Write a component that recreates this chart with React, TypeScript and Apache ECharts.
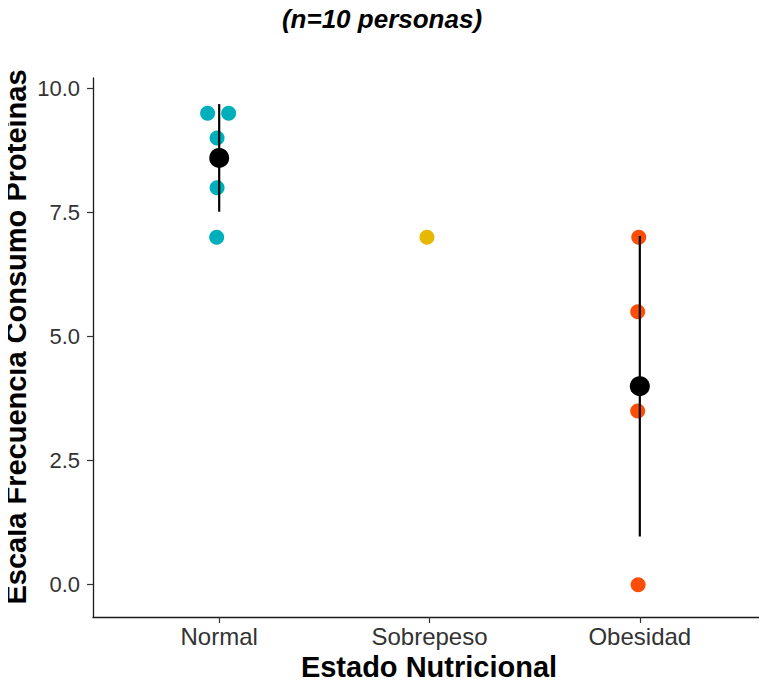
import React, { useEffect, useRef } from "react";
import * as echarts from "echarts";

// Nutritional status groups and the protein-consumption scores recorded in each
const categories = ["Normal", "Sobrepeso", "Obesidad"];
const normalValues = [9.5, 9.5, 9.0, 8.0, 7.0];
const sobrepesoValues = [7.0];
const obesidadValues = [7.0, 5.5, 3.5, 0.0];

// Small horizontal jitter applied to each point (in category units)
const normalJitter = [-0.055, 0.045, -0.01, -0.01, -0.012];
const sobrepesoJitter = [-0.012];
const obesidadJitter = [-0.005, -0.01, -0.01, -0.008];

const yTicks = [0, 2.5, 5, 7.5, 10];
const groupColors = ["#00AFBB", "#E7B800", "#FC4E07"];

const groups = [
  { values: normalValues, jitter: normalJitter },
  { values: sobrepesoValues, jitter: sobrepesoJitter },
  { values: obesidadValues, jitter: obesidadJitter },
];

function mean(v: number[]) {
  return v.reduce((a, b) => a + b, 0) / v.length;
}
function sd(v: number[]) {
  if (v.length < 2) return NaN;
  const m = mean(v);
  return Math.sqrt(v.reduce((a, b) => a + (b - m) * (b - m), 0) / (v.length - 1));
}

const FONT = "Arial, 'Liberation Sans', sans-serif";

export default function App() {
  const ref = useRef<HTMLDivElement>(null);

  useEffect(() => {
    if (!ref.current) return;
    const chart = echarts.init(ref.current, undefined, { renderer: "svg" });

    const pointSeries = groups.map((g, i) => ({
      type: "scatter" as const,
      symbol: "circle",
      symbolSize: 15,
      itemStyle: { color: groupColors[i], opacity: 1 },
      data: g.values.map((v, j) => [i + g.jitter[j], v]),
      z: 2,
    }));

    // mean ± sd per group; groups with a single observation have no sd and are skipped
    const summary = groups
      .map((g, i) => {
        const m = mean(g.values);
        const s = sd(g.values);
        return { x: i, mean: m, lo: m - s, hi: m + s };
      })
      .filter((d) => !isNaN(d.lo));

    const option: any = {
      animation: false,
      backgroundColor: "#ffffff",
      grid: { left: 93, right: 1, top: 78, bottom: 68, containLabel: false },
      xAxis: {
        type: "value",
        min: -0.6,
        max: 2.6,
        splitLine: { show: false },
        axisLine: { show: true, onZero: false, lineStyle: { color: "#1a1a1a", width: 1.3 } },
        axisTick: { show: true, length: 6, customValues: [0, 1, 2], lineStyle: { color: "#333", width: 1.2 } },
        axisLabel: {
          customValues: [0, 1, 2],
          formatter: (v: number) => categories[Math.round(v)] ?? "",
          fontFamily: FONT,
          fontSize: 24,
          color: "#333333",
          margin: 7,
        },
      },
      yAxis: {
        type: "value",
        min: -0.65,
        max: 10.21,
        splitLine: { show: false },
        axisLine: { show: true, onZero: false, lineStyle: { color: "#1a1a1a", width: 1.3 } },
        axisTick: { show: true, length: 6, customValues: yTicks, lineStyle: { color: "#333", width: 1.2 } },
        axisLabel: {
          customValues: yTicks,
          formatter: (v: number) => v.toFixed(1),
          fontFamily: FONT,
          fontSize: 22,
          color: "#333333",
          margin: 13,
        },
      },
      series: [
        ...pointSeries,
        {
          type: "custom",
          z: 3,
          renderItem: (params: any, api: any) => {
            const x = api.value(0);
            const p1 = api.coord([x, api.value(1)]);
            const p2 = api.coord([x, api.value(2)]);
            return {
              type: "line",
              shape: { x1: p1[0], y1: p1[1], x2: p2[0], y2: p2[1] },
              style: { stroke: "#000", lineWidth: 2.2 },
            };
          },
          data: summary.map((d) => [d.x, d.lo, d.hi]),
        },
        {
          type: "scatter",
          symbol: "circle",
          symbolSize: 20,
          z: 4,
          itemStyle: { color: "#000", opacity: 1 },
          data: summary.map((d) => [d.x, d.mean]),
        },
      ],
      graphic: [
        {
          type: "text",
          style: {
            x: 382,
            y: 19,
            text: "(n=10 personas)",
            fontFamily: FONT,
            fontSize: 26,
            fontWeight: "bold",
            fontStyle: "italic",
            fill: "#000",
            align: "center",
            verticalAlign: "middle",
          },
        },
        {
          type: "text",
          style: {
            x: 429,
            y: 667,
            text: "Estado Nutricional",
            fontFamily: FONT,
            fontSize: 29,
            fontWeight: "bold",
            fill: "#000",
            align: "center",
            verticalAlign: "middle",
          },
        },
        {
          type: "text",
          x: 16,
          y: 337,
          rotation: Math.PI / 2,
          style: {
            x: 0,
            y: 0,
            text: "Escala Frecuencia Consumo Proteínas",
            fontFamily: FONT,
            fontSize: 29,
            fontWeight: "bold",
            fill: "#000",
            align: "center",
            verticalAlign: "middle",
          },
        },
      ],
    };

    chart.setOption(option);
    return () => chart.dispose();
  }, []);

  return <div ref={ref} style={{ width: 767, height: 685, margin: -8 }} />;
}
